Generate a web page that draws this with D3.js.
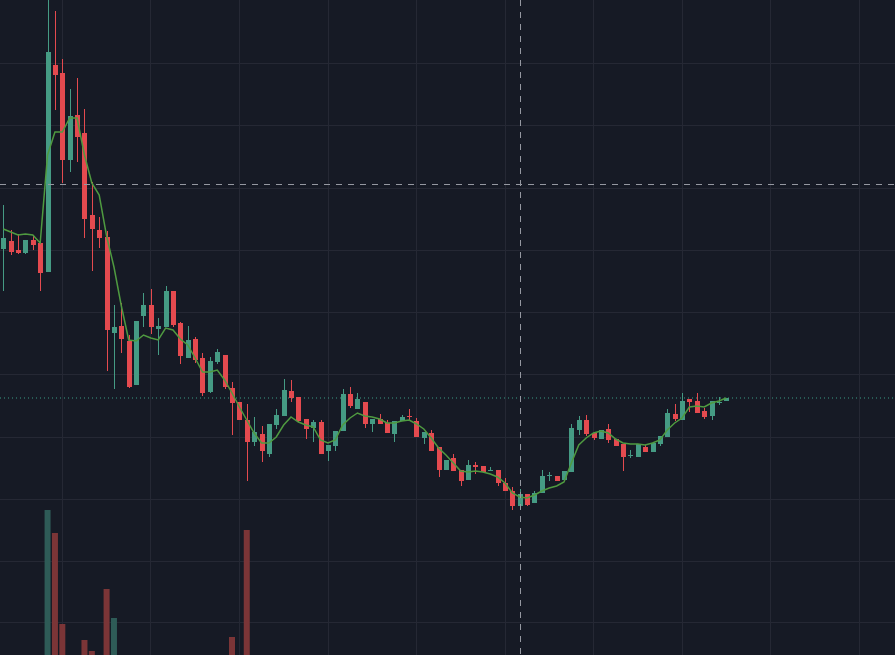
<!DOCTYPE html>
<html><head><meta charset="utf-8">
<script src="https://cdn.jsdelivr.net/npm/d3@7"></script>
<style>html,body{margin:0;padding:0;background:#161a25;overflow:hidden}</style>
</head><body><svg id="c" width="895" height="655"></svg>
<script>
const opens  = [451,459,450,447,460,457,428,635,627,540,585,567,485,470,463,367,374,359,315,384,395,371,373,409,377,342,361,342,308,338,345,312,298,280,258,266,246,275,284,309,303,281,272,278,249,254,269,306,291,298,276,281,277,266,279,284,279,262,267,253,230,242,230,220,235,234,229,230,217,209,194,206,197,207,224,224,220,228,270,280,267,261,271,261,256,244,243,253,248,256,263,286,280,301,299,289,284,298,299];
const highs  = [495,470,466,460,464,457,700,689,641,611,622,591,518,483,469,395,397,365,379,407,411,382,414,409,378,374,363,347,343,351,345,318,298,296,283,274,276,291,321,320,303,281,280,280,255,269,311,313,307,298,281,286,280,279,285,291,282,268,270,253,240,246,230,240,238,234,233,230,222,213,211,206,209,230,228,224,229,276,284,285,267,270,276,261,256,250,256,255,257,264,291,296,307,301,307,292,299,303,302];
const lows   = [409,445,446,446,450,409,428,590,517,528,538,462,429,452,329,311,347,312,315,373,366,345,373,373,336,342,337,304,307,336,311,265,280,219,254,238,243,271,284,298,278,261,258,246,239,249,269,292,291,272,268,276,267,258,279,279,263,256,249,223,230,229,214,220,226,228,229,214,209,190,194,194,197,207,219,219,220,228,265,264,260,261,257,254,229,242,243,248,248,254,263,279,280,288,287,281,280,295,299];
const closes = [462,448,447,460,455,427,648,625,540,584,563,481,471,462,370,373,361,313,379,395,373,374,409,375,344,360,340,307,339,348,313,297,280,258,268,249,276,285,310,302,279,271,278,246,255,269,306,294,301,276,281,276,267,279,283,283,263,268,249,230,240,229,219,235,233,228,230,217,209,194,206,195,207,224,225,219,229,272,280,266,262,270,260,254,243,245,256,248,257,264,287,281,299,298,287,283,299,298,302];
const maLine = [471,468,465,466,465,457,545,568,568,582,582,545,517,505,464,433,394,360,359,365,362,360,372,370,361,355,342,328,328,330,320,307,293,280,267,257,257,263,275,283,278,275,273,260,257,260,275,282,287,284,283,281,277,277,279,280,276,271,262,252,245,237,229,228,229,228,226,223,217,207,203,202,205,209,212,214,218,237,255,262,267,269,267,261,257,256,256,255,257,260,270,277,282,293,294,293,297,299,302];
const volumes = [30,30,30,30,30,30,190,167,76,30,30,60,49,30,111,82,30,30,30,30,30,30,30,30,30,30,30,30,30,30,30,63,30,170,30,30,30,30,30,30,30,30,30,30,30,30,30,30,30,30,30,30,30,30,30,30,30,30,30,30,30,30,30,30,30,30,30,30,30,30,30,30,30,30,30,30,30,30,30,30,30,30,30,30,30,30,30,30,30,30,30,30,30,30,30,30,30,30,30];
const gridPrices = [637,575,512,450,388,326,263,201,139,78];
const gridIndex = [7.96,19.88,31.95,44.0,55.94,68.0,79.93,91.99,103.9,115.98];
const crossIndex = 70.03, crossPrice = 516;

const W=895,H=655;
const svg=d3.select('#c');
svg.append('rect').attr('width',W).attr('height',H).attr('fill','#161a25');
const x=d3.scaleLinear().domain([0,98]).range([3.3,726.3]);
const y=d3.scaleLinear().domain([0,700]).range([700,0]);
const v=d3.scaleLinear().domain([0,700]).range([700,0]);
const grid=svg.append('g').attr('stroke','#252834').attr('stroke-width',1);
grid.selectAll('.h').data(gridPrices).enter().append('line')
 .attr('x1',0).attr('x2',W).attr('y1',d=>Math.round(y(d))+0.5).attr('y2',d=>Math.round(y(d))+0.5);
grid.selectAll('.v').data(gridIndex).enter().append('line')
 .attr('y1',0).attr('y2',H).attr('x1',d=>Math.round(x(d))+0.5).attr('x2',d=>Math.round(x(d))+0.5);
const idx=d3.range(closes.length);
const up=i=>closes[i]>=opens[i];
svg.append('g').selectAll('rect').data(idx).enter().append('rect')
 .attr('x',i=>x(i)-3).attr('width',6).attr('y',i=>v(volumes[i])).attr('height',i=>700-v(volumes[i]))
 .attr('fill',i=>up(i)?'#2e5b57':'#7b3537');
svg.append('line').attr('x1',0).attr('x2',W).attr('y1',y(closes[closes.length-1])).attr('y2',y(closes[closes.length-1]))
 .attr('stroke','#3a9c86').attr('stroke-width',1).attr('stroke-dasharray','1,3');
const cg=svg.append('g');
cg.selectAll('line').data(idx).enter().append('line')
 .attr('x1',i=>Math.round(x(i))+0.5).attr('x2',i=>Math.round(x(i))+0.5)
 .attr('y1',i=>y(highs[i])).attr('y2',i=>y(lows[i]))
 .attr('stroke',i=>up(i)?'#459b84':'#e44a4f').attr('stroke-width',1);
cg.selectAll('rect').data(idx).enter().append('rect')
 .attr('x',i=>Math.round(x(i))-2).attr('width',5)
 .attr('y',i=>y(Math.max(opens[i],closes[i])))
 .attr('height',i=>Math.max(1,Math.abs(y(opens[i])-y(closes[i]))))
 .attr('fill',i=>up(i)?'#459b84':'#e44a4f');
svg.append('path').datum(idx).attr('fill','none').attr('stroke','#4f9a40').attr('stroke-width',1.5)
 .attr('d',d3.line().x(i=>x(i)).y(i=>y(maLine[i])));
svg.append('line').attr('x1',0).attr('x2',W).attr('y1',y(crossPrice)+0.5).attr('y2',y(crossPrice)+0.5)
 .attr('stroke','#9598a1').attr('stroke-dasharray','6,6');
svg.append('line').attr('y1',0).attr('y2',H).attr('x1',Math.round(x(crossIndex))+0.5).attr('x2',Math.round(x(crossIndex))+0.5)
 .attr('stroke','#9598a1').attr('stroke-dasharray','6,6');
</script></body></html>
